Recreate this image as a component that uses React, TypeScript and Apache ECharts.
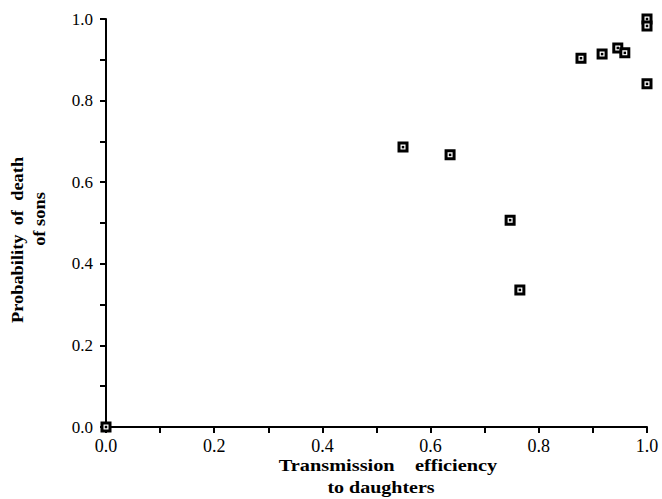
import React, { useEffect, useRef } from "react";
import * as echarts from "echarts";

const efficiency = [0.0, 0.549, 0.636, 0.747, 0.765, 0.878, 0.917, 0.917, 0.946, 0.959, 1.0, 1.0, 1.0];
const deathProb = [0.0, 0.686, 0.667, 0.507, 0.336, 0.904, 1.002, 0.914, 0.929, 0.917, 1.0, 0.983, 0.841];
const xTitle1 = "Transmission    efficiency";
const xTitle2 = "to daughters";
const yTitle1 = "Probability  of  death";
const yTitle2 = "of sons";

const SERIF = "'Liberation Serif', 'DejaVu Serif', serif";

export default function App() {
  const ref = useRef<HTMLDivElement>(null);
  useEffect(() => {
    if (!ref.current) return;
    const chart = echarts.init(ref.current, undefined, { renderer: "svg" });
    const pts = efficiency.map((x, i) => [x, deathProb[i]]);
    const fmt = (v: number) => (Math.round(v * 10) % 2 === 0 ? v.toFixed(1) : "");
    const axisCommon = {
      type: "value" as const,
      min: 0,
      max: 1,
      interval: 0.1,
      splitLine: { show: false },
      axisLine: { show: true, lineStyle: { color: "#000", width: 2 } },
      axisTick: { show: true, length: 6, lineStyle: { color: "#000", width: 2 } },
    };
    const titleStyle = (text: string) => ({
      text,
      font: `bold 16px ${SERIF}`,
      fill: "#000",
      textAlign: "center",
      textVerticalAlign: "middle",
    });
    chart.setOption({
      animation: false,
      backgroundColor: "#fff",
      grid: { left: 106, right: 15, top: 19, bottom: 72, containLabel: false },
      xAxis: {
        ...axisCommon,
        axisLabel: {
          formatter: fmt,
          color: "#000",
          fontFamily: SERIF,
          fontSize: 18,
          margin: 10,
          showMinLabel: true,
          showMaxLabel: true,
        },
      },
      yAxis: {
        ...axisCommon,
        axisLabel: {
          formatter: fmt,
          color: "#000",
          fontFamily: SERIF,
          fontSize: 17,
          margin: 13,
          showMinLabel: true,
          showMaxLabel: true,
        },
      },
      series: [
        {
          type: "scatter",
          data: pts,
          symbol: "rect",
          symbolSize: 8,
          itemStyle: { color: "#fff", borderColor: "#000", borderWidth: 3, opacity: 1 },
          z: 5,
        },
        {
          type: "scatter",
          data: pts,
          symbol: "rect",
          symbolSize: 2.5,
          itemStyle: { color: "#000", opacity: 1 },
          z: 6,
        },
      ],
      graphic: [
        { type: "text", x: 388, y: 466, scaleX: 1.27, style: titleStyle(xTitle1) },
        { type: "text", x: 381, y: 488, scaleX: 1.25, style: titleStyle(xTitle2) },
        { type: "text", x: 18, y: 240, rotation: Math.PI / 2, scaleX: 1.15, style: titleStyle(yTitle1) },
        { type: "text", x: 40, y: 219, rotation: Math.PI / 2, scaleX: 1.15, style: titleStyle(yTitle2) },
      ],
    });
    return () => chart.dispose();
  }, []);
  return <div ref={ref} style={{ width: 662, height: 499, position: "absolute", left: 0, top: 0 }} />;
}
